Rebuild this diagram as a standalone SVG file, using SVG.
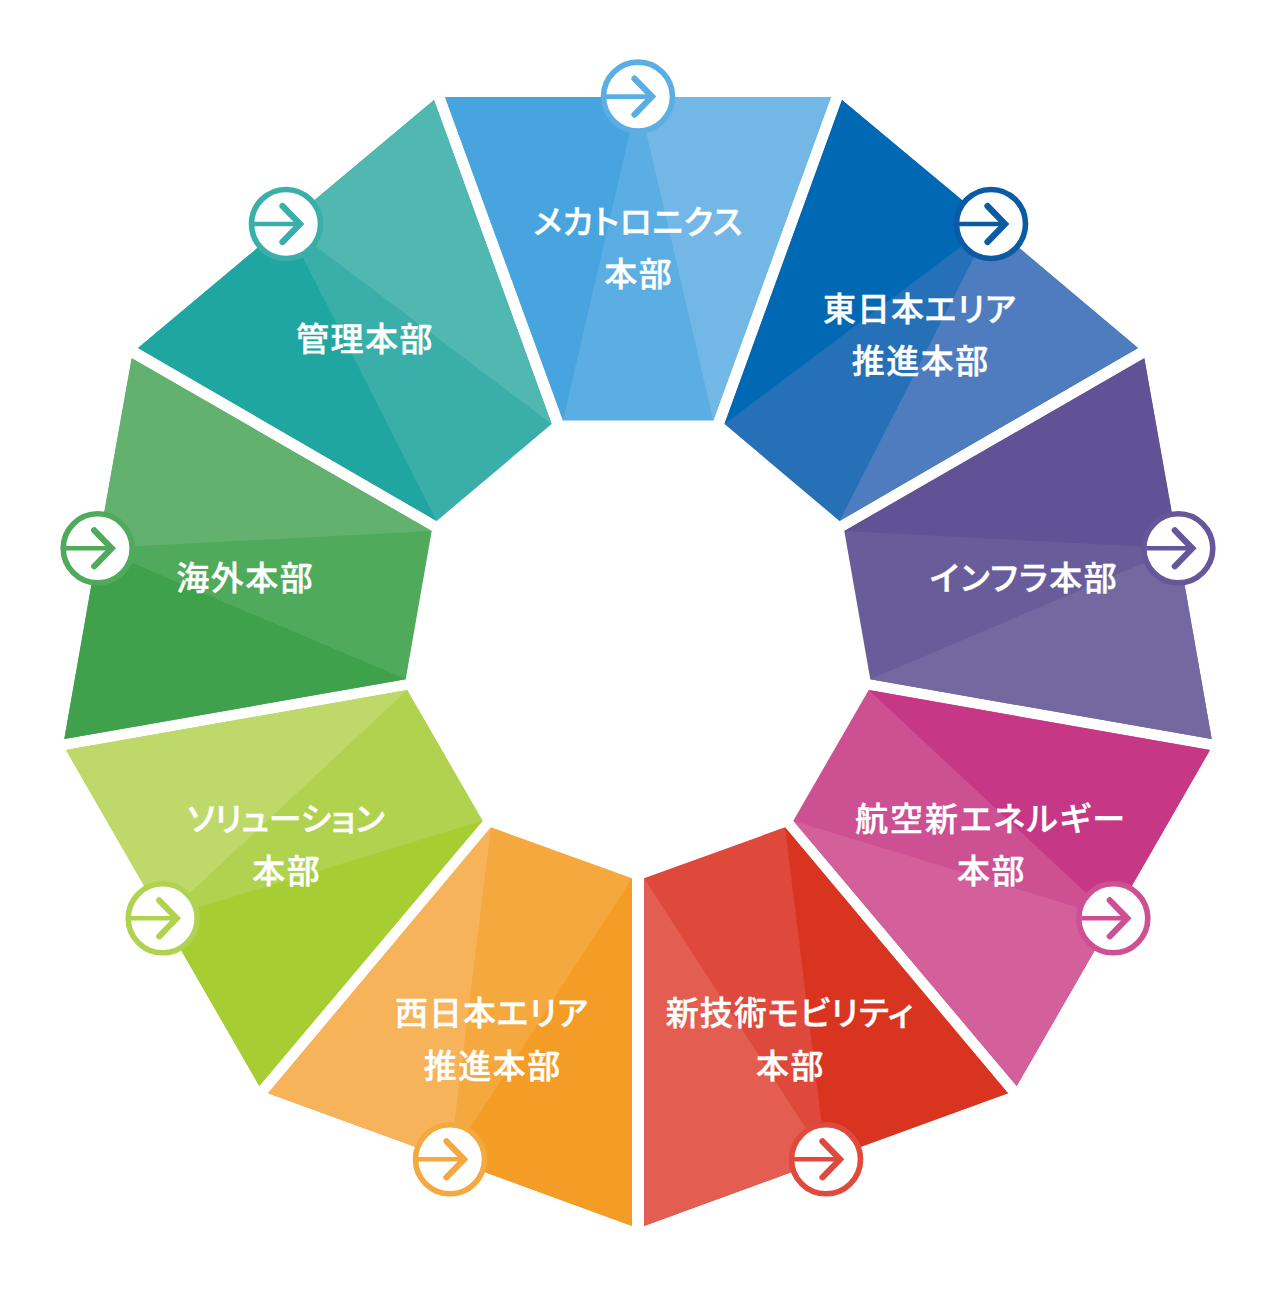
<svg xmlns="http://www.w3.org/2000/svg" width="1276" height="1290" viewBox="0 0 1276 1290">
<style>
text{font-family:"Noto Sans CJK JP","Noto Sans",sans-serif;font-size:33px;font-weight:500;fill:#fff;stroke:#fff;stroke-width:.4px;text-anchor:middle;letter-spacing:1.5px;font-feature-settings:"palt"}
.t1{letter-spacing:.6px}
.t2{letter-spacing:-.2px}
.t3{letter-spacing:.9px}
.t4{letter-spacing:1.9px}
.ring{fill:#fff;stroke-width:5.6}
.sh{stroke-width:4.6;fill:none}
.ch{stroke-width:6.2;fill:none;stroke-linecap:round;stroke-linejoin:miter}
</style>
<defs>
<g id="btn">
<circle class="ring" r="34.5" stroke="currentColor"/>
<path class="sh" stroke="currentColor" d="M-32 0H15"/>
<path class="ch" stroke="currentColor" d="M-3.5-18 14 0-3.5 18"/>
</g>
</defs>
<rect width="1276" height="1290" fill="#fff"/>
<g id="node-mecha">
<polygon fill="#5baee3" points="445,97 831,97 713.3,420.5 563,420.5"/>
<polygon fill="#48a4de" points="445,97 638,97 563,420.5"/>
<polygon fill="#72b7e5" points="831,97 638,97 713.3,420.5"/>
<use href="#btn" x="638" y="96.6" color="#5baee3"/>
<text class="t1" x="638" y="234">メカトロニクス</text><text x="638.7" y="286">本部</text>
</g>
<g id="node-east">
<polygon fill="#2570b7" points="842,100 1138,348 839.5,521 724.5,424"/>
<polygon fill="#0168b3" points="842,100 991,224 724.5,424"/>
<polygon fill="#4e7cbe" points="1138,348 991,224 839.5,521"/>
<use href="#btn" x="991" y="224" color="#0b5ba4"/>
<text class="t3" x="920" y="321">東日本エリア</text><text x="920.7" y="373">推進本部</text>
</g>
<g id="node-infra">
<polygon fill="#695c9a" points="1144.3,358.3 1211.7,739 870.3,679.3 844.3,531"/>
<polygon fill="#615296" points="1144.3,358.3 1178.3,548.3 844.3,531"/>
<polygon fill="#7468a1" points="1211.7,739 1178.3,548.3 870.3,679.3"/>
<use href="#btn" x="1178.3" y="548.3" color="#655799"/>
<text x="1024" y="590">インフラ本部</text>
</g>
<g id="node-aero">
<polygon fill="#cd5093" points="1210,750 1016.7,1086 793.3,820.7 868.7,690"/>
<polygon fill="#c63885" points="1210,750 1113.3,918.3 868.7,690"/>
<polygon fill="#d35f9b" points="1016.7,1086 1113.3,918.3 793.3,820.7"/>
<use href="#btn" x="1113.3" y="918.3" color="#cd5093"/>
<text class="t4" x="991" y="831">航空新エネルギー</text><text x="991.5" y="883">本部</text>
</g>
<g id="node-newtech">
<polygon fill="#de493b" points="1008,1093.3 644,1226 644,878.3 785,827.3"/>
<polygon fill="#d93420" points="1008,1093.3 826,1159.3 785,827.3"/>
<polygon fill="#e35e50" points="644,1226 826,1159.3 644,878.3"/>
<use href="#btn" x="826" y="1159.3" color="#e04a3d"/>
<text class="t3" x="790" y="1025">新技術モビリティ</text><text x="790.5" y="1077.5">本部</text>
</g>
<g id="node-west">
<polygon fill="#f5a83d" points="268,1093.3 632,1226 632,878.3 491,827.3"/>
<polygon fill="#f6b35a" points="268,1093.3 450,1159.3 491,827.3"/>
<polygon fill="#f49d26" points="632,1226 450,1159.3 632,878.3"/>
<use href="#btn" x="450" y="1159.3" color="#f5a83d"/>
<text class="t3" x="492" y="1025">西日本エリア</text><text x="492.7" y="1077.5">推進本部</text>
</g>
<g id="node-solution">
<polygon fill="#b1d24f" points="66,750 259.3,1086 482.7,820.7 407.3,690"/>
<polygon fill="#bed969" points="66,750 162.7,918.3 407.3,690"/>
<polygon fill="#a6cd32" points="259.3,1086 162.7,918.3 482.7,820.7"/>
<use href="#btn" x="162.7" y="918.3" color="#b1d24f"/>
<text class="t2" x="286" y="831">ソリューション</text><text x="286.7" y="883">本部</text>
</g>
<g id="node-kaigai">
<polygon fill="#4faa5b" points="64.3,739 131.7,358.3 431.7,531 405.7,679.3"/>
<polygon fill="#3fa14b" points="64.3,739 97.7,548.3 405.7,679.3"/>
<polygon fill="#62b16f" points="131.7,358.3 97.7,548.3 431.7,531"/>
<use href="#btn" x="97.7" y="548.3" color="#4faa5b"/>
<text x="245.3" y="590">海外本部</text>
</g>
<g id="node-kanri">
<polygon fill="#3aafa9" points="138,348 434,100 551.7,424 436.7,521"/>
<polygon fill="#20a6a0" points="138,348 286,224 436.7,521"/>
<polygon fill="#50b8b0" points="434,100 286,224 551.7,424"/>
<use href="#btn" x="286" y="224" color="#3aafa9"/>
<text x="365" y="351">管理本部</text>
</g>
</svg>
